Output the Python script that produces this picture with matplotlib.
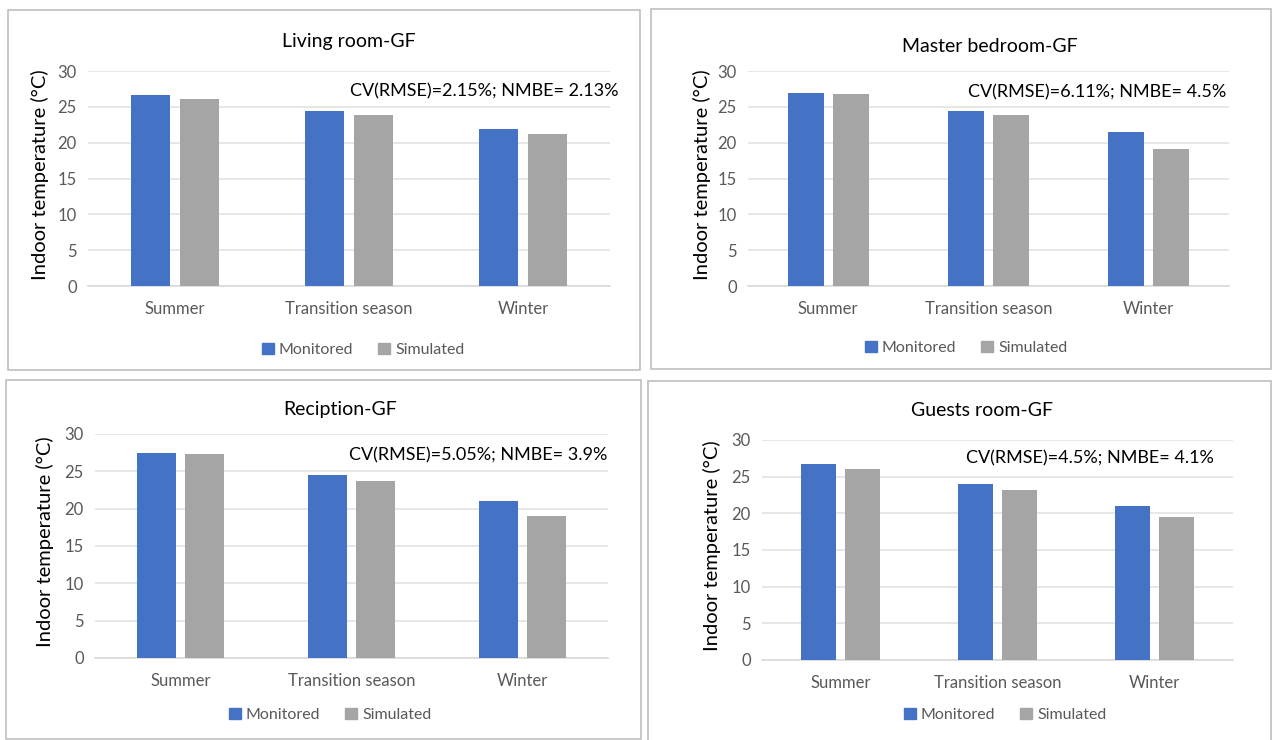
import matplotlib
matplotlib.use("Agg")
import matplotlib.pyplot as plt
from matplotlib.patches import Rectangle, Patch

plt.rcParams['font.family'] = ['Lato', 'DejaVu Sans']

seasons = ['Summer', 'Transition season', 'Winter']
rooms = ['Living room-GF', 'Master bedroom-GF', 'Reciption-GF', 'Guests room-GF']
stats = ['CV(RMSE)=2.15%; NMBE= 2.13%', 'CV(RMSE)=6.11%; NMBE= 4.5%',
         'CV(RMSE)=5.05%; NMBE= 3.9%', 'CV(RMSE)=4.5%; NMBE= 4.1%']

living_monitored = [26.6, 24.4, 21.85]
living_simulated = [26.1, 23.85, 21.25]
master_monitored = [26.95, 24.35, 21.55]
master_simulated = [26.75, 23.8, 19.05]
reception_monitored = [27.5, 24.45, 21.05]
reception_simulated = [27.3, 23.7, 19.0]
guests_monitored = [26.7, 24.0, 21.0]
guests_simulated = [26.0, 23.25, 19.55]

monitored = [living_monitored, master_monitored, reception_monitored, guests_monitored]
simulated = [living_simulated, master_simulated, reception_simulated, guests_simulated]

W, H = 1273, 740
BLUE = '#4472C4'
GREY = '#A5A5A5'
TXT = '#595959'

# pixel layout: border box, plot area, title/annotation/legend positions
boxes = [(8, 10, 640, 370), (651, 9, 1271, 369), (6, 380, 641, 739), (648, 381, 1271, 745)]
plots = [(88, 71, 610, 286), (748, 71, 1229, 286), (95, 434, 608, 658), (762, 440, 1233, 660)]
title_pos = [(349, 41), (990, 46), (340, 409), (982, 411)]
note_pos = [(618, 91), (1226, 92), (607, 455), (1214, 458)]
ylab_x = [40, 702, 45, 712]
legend_pos = [(363, 350), (966, 348), (330, 715), (1005, 715)]

fig = plt.figure(figsize=(W / 100, H / 100), dpi=100)


def fx(x):
    return x / W


def fy(y):
    return 1 - y / H


for i in range(4):
    bx0, by0, bx1, by1 = boxes[i]
    fig.patches.append(Rectangle((fx(bx0), fy(by1)), fx(bx1 - bx0), (by1 - by0) / H,
                                 transform=fig.transFigure, fill=False,
                                 edgecolor='#BFBFBF', linewidth=1.2))

    px0, py0, px1, py1 = plots[i]
    ax = fig.add_axes([fx(px0), fy(py1), fx(px1 - px0), (py1 - py0) / H])
    x = range(len(seasons))
    ax.bar([k - 0.14 for k in x], monitored[i], width=0.225, color=BLUE, zorder=3)
    ax.bar([k + 0.14 for k in x], simulated[i], width=0.225, color=GREY, zorder=3)
    ax.set_xlim(-0.5, 2.5)
    ax.set_ylim(0, 30)
    ax.set_yticks(range(0, 31, 5))
    ax.set_xticks(list(x))
    ax.set_xticklabels(seasons)
    ax.grid(axis='y', color='#E3E3E3', linewidth=1.2, zorder=0)
    for s in ['top', 'right', 'left']:
        ax.spines[s].set_visible(False)
    ax.spines['bottom'].set_color('#D9D9D9')
    ax.spines['bottom'].set_linewidth(1.2)
    ax.tick_params(axis='both', length=0, labelsize=12, labelcolor=TXT)
    ax.tick_params(axis='x', pad=11)
    ax.tick_params(axis='y', pad=8)

    fig.text(fx(ylab_x[i]), fy((py0 + py1) / 2 - 4), 'Indoor temperature (°C)',
             rotation=90, ha='center', va='center', fontsize=14.5, color='black')
    fig.text(fx(title_pos[i][0]), fy(title_pos[i][1]), rooms[i],
             ha='center', va='center', fontsize=14, color='black')
    fig.text(fx(note_pos[i][0]), fy(note_pos[i][1]), stats[i],
             ha='right', va='center', fontsize=13, color='black')

    lx, ly = legend_pos[i]
    handles = [Patch(color=BLUE, label='Monitored'), Patch(color=GREY, label='Simulated')]
    fig.legend(handles=handles, loc='center', bbox_to_anchor=(fx(lx), fy(ly)),
               ncol=2, frameon=False, fontsize=11.5, labelcolor=TXT,
               handlelength=0.75, handleheight=0.75, handletextpad=0.3,
               columnspacing=1.6)

fig.savefig('out.png', dpi=100)
